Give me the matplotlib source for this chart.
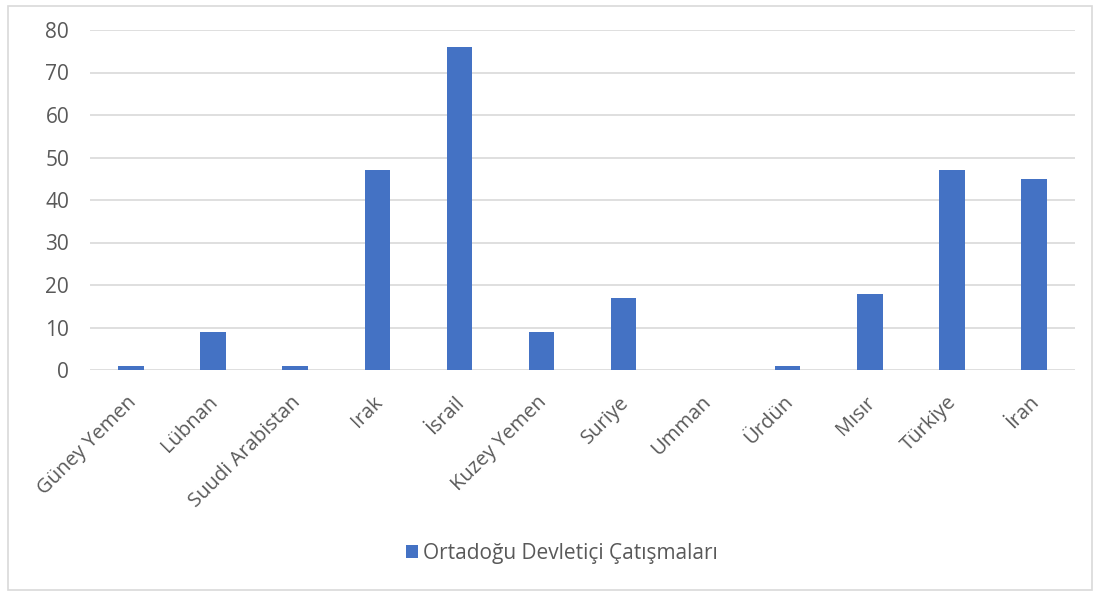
import matplotlib
matplotlib.use("Agg")
import matplotlib.pyplot as plt
from matplotlib.patches import Rectangle
from matplotlib.transforms import ScaledTranslation

categories = ["Güney Yemen", "Lübnan", "Suudi Arabistan", "Irak", "İsrail", "Kuzey Yemen",
              "Suriye", "Umman", "Ürdün", "Mısır", "Türkiye", "İran"]
values = [1, 9, 1, 47, 76, 9, 17, 0, 1, 18, 47, 45]
series_name = "Ortadoğu Devletiçi Çatışmaları"
yticks = [0, 10, 20, 30, 40, 50, 60, 70, 80]

plt.rcParams['font.family'] = ['Open Sans', 'DejaVu Sans']
bar_color = "#4472C4"
text_color = "#595959"
grid_color = "#D9D9D9"
fs = 14.5

fig = plt.figure(figsize=(11, 5.96), dpi=100)
ax = fig.add_axes([90/1100, 1 - 370/596, (1075-90)/1100, (370-30)/596])

x = list(range(len(categories)))
ax.bar(x, values, width=0.31, color=bar_color, label=series_name, zorder=3)
ax.set_xlim(-0.5, len(categories) - 0.5)
ax.set_ylim(0, 80)
ax.set_yticks(yticks)
ax.set_yticklabels([str(v) for v in yticks], fontsize=15, color=text_color)
ax.set_xticks(x)
ax.set_xticklabels(categories, rotation=45, ha='right', rotation_mode='anchor',
                   fontsize=fs, color=text_color)
ax.tick_params(axis='both', length=0)
ax.tick_params(axis='y', pad=15)
ax.tick_params(axis='x', pad=16)
offset = ScaledTranslation(-0.05, 0, fig.dpi_scale_trans)
for lbl in ax.get_xticklabels():
    lbl.set_transform(lbl.get_transform() + offset)
ax.grid(axis='y', color=grid_color, linewidth=1.2, zorder=0)
for s in ax.spines.values():
    s.set_visible(False)

leg = fig.legend(loc='center', bbox_to_anchor=(562/1100, 1 - 553/596), frameon=False,
                 fontsize=15, handlelength=0.6, handleheight=0.6, handletextpad=0.25,
                 labelcolor=text_color)

fig.patches.append(Rectangle((8/1100, 6/596), (1092-8)/1100, (590-6)/596,
                             transform=fig.transFigure, fill=False,
                             edgecolor="#D9D9D9", linewidth=1.2))

fig.savefig("out.png", dpi=100)
